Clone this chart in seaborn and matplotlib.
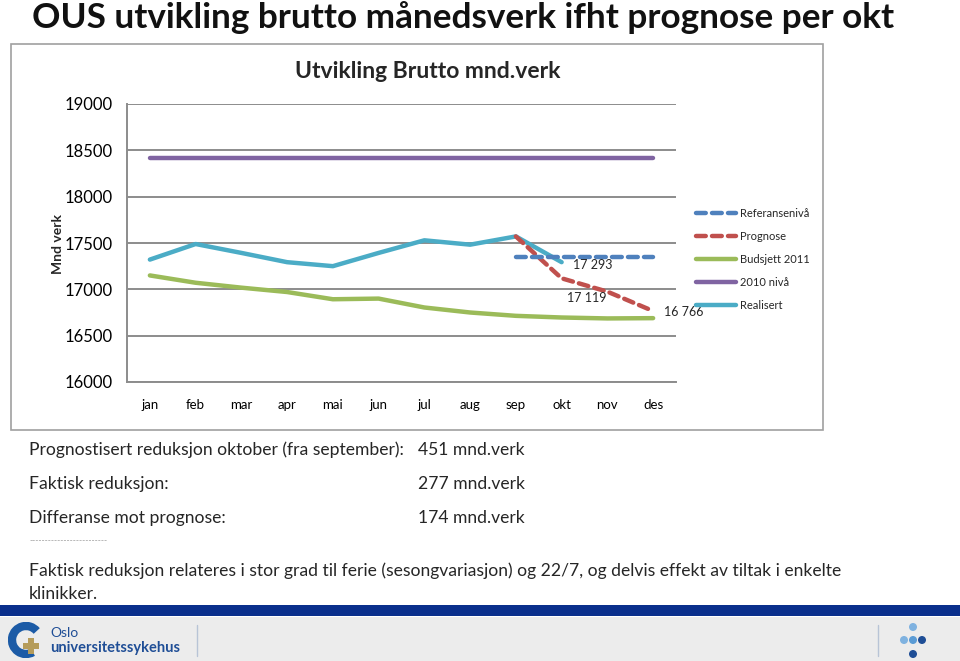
import numpy as np
import matplotlib
matplotlib.use("Agg")
import matplotlib.pyplot as plt
import seaborn as sns
from matplotlib.patches import Rectangle, Arc, Circle
from matplotlib.lines import Line2D

# Data
months = ["jan", "feb", "mar", "apr", "mai", "jun", "jul", "aug", "sep", "okt", "nov", "des"]
realisert = [17321, 17489, 17393, 17293, 17250, 17393, 17529, 17482, 17571, 17293]
budsjett_2011 = [17150, 17071, 17018, 16971, 16893, 16900, 16804, 16750, 16714, 16696, 16686, 16689]
niva_2010 = [18420, 18420, 18420, 18420, 18420, 18420, 18420, 18420, 18420, 18420, 18420, 18420]
prognose_months = ["sep", "okt", "nov", "des"]
prognose = [17571, 17119, 16975, 16766]
referanse_months = ["sep", "okt", "nov", "des"]
referanse = [17350, 17350, 17350, 17350]
y_ticks = [16000, 16500, 17000, 17500, 18000, 18500, 19000]

summary_labels = ["Prognostisert reduksjon oktober (fra september):", "Faktisk reduksjon:", "Differanse mot prognose:"]
summary_values = ["451 mnd.verk", "277 mnd.verk", "174 mnd.verk"]

# Colours (Office palette)
c_blue = "#4F81BD"
c_red = "#C0504D"
c_green = "#9BBB59"
c_purple = "#8064A2"
c_cyan = "#4BACC6"
c_grid = "#8C8C8C"

sns.set_style("white")
plt.rcParams["font.family"] = ["Lato", "DejaVu Sans"]

W, H = 960, 661
fig = plt.figure(figsize=(W / 100, H / 100), dpi=100)


def fx(px):
    return px / W


def fy(py):
    return 1 - py / H


# chart box
fig.patches.append(Rectangle((fx(11), fy(430)), fx(823) - fx(11), fy(44) - fy(430),
                             transform=fig.transFigure, fill=False, edgecolor="#A0A0A0", lw=1.2))

ax = fig.add_axes([fx(127), fy(382), fx(676) - fx(127), fy(104) - fy(382)])

idx = {m: i for i, m in enumerate(months)}
x_all = np.arange(len(months))

sns.lineplot(x=x_all, y=niva_2010, color=c_purple, lw=3.2, ax=ax, solid_capstyle="round")
sns.lineplot(x=x_all, y=budsjett_2011, color=c_green, lw=3.2, ax=ax, solid_capstyle="round")
sns.lineplot(x=x_all[:len(realisert)], y=realisert, color=c_cyan, lw=3.2, ax=ax, solid_capstyle="round")
sns.lineplot(x=[idx[m] for m in prognose_months], y=prognose, color=c_red, lw=3.2, ax=ax,
             linestyle=(0, (2.2, 1.4)), dash_capstyle="round")
sns.lineplot(x=[idx[m] for m in referanse_months], y=referanse, color=c_blue, lw=3.2, ax=ax,
             linestyle=(0, (2.2, 1.4)), dash_capstyle="round")

ax.set_xlim(-0.5, 11.5)
ax.set_ylim(16000, 19000)
ax.set_yticks(y_ticks)
ax.set_yticklabels([str(t) for t in y_ticks], fontsize=12)
ax.set_xticks(x_all)
ax.set_xticklabels(months, fontsize=9.5)
ax.tick_params(axis="both", length=0, colors="black")
ax.tick_params(axis="y", pad=10)
ax.tick_params(axis="x", pad=12)
ax.grid(axis="y", color=c_grid, lw=1.4)
ax.set_axisbelow(True)
sns.despine(ax=ax, top=True, right=True)
for s in ["left", "bottom"]:
    ax.spines[s].set_color(c_grid)
    ax.spines[s].set_linewidth(1.4)
ax.set_xlabel("")
ax.set_ylabel("")

# data labels
ax.annotate("17 293", (idx["okt"], realisert[9]), xytext=(8, -2), textcoords="offset points",
            fontsize=9, ha="left", va="center")
ax.annotate("17 119", (idx["okt"], prognose[1]), xytext=(4, -14), textcoords="offset points",
            fontsize=9, ha="left", va="center")
ax.annotate("16 766", (idx["des"], prognose[3]), xytext=(8, -1), textcoords="offset points",
            fontsize=9, ha="left", va="center")

# legend
handles = [
    Line2D([], [], color=c_blue, lw=3.2, linestyle=(0, (2.2, 1.4)), dash_capstyle="round"),
    Line2D([], [], color=c_red, lw=3.2, linestyle=(0, (2.2, 1.4)), dash_capstyle="round"),
    Line2D([], [], color=c_green, lw=3.2),
    Line2D([], [], color=c_purple, lw=3.2),
    Line2D([], [], color=c_cyan, lw=3.2),
]
names = ["Referansenivå", "Prognose", "Budsjett 2011", "2010 nivå", "Realisert"]
fig.legend(handles, names, loc="upper left", bbox_to_anchor=(fx(690), fy(202)), frameon=False,
           fontsize=8, handlelength=3.6, handletextpad=0.4, labelspacing=1.08, borderpad=0)

fig.text(fx(428), fy(72), "Utvikling Brutto mnd.verk", fontsize=16.5, fontweight="bold",
         ha="center", va="center")
fig.text(fx(58), fy(244), "Mnd verk", fontsize=10, fontweight="bold", rotation=90,
         ha="center", va="center")

# slide title
fig.text(fx(32), fy(18), "OUS utvikling brutto månedsverk ifht prognose per okt", fontsize=25.3,
         fontweight="bold", ha="left", va="center", color="#111111")

# summary text
for i, (lab, val) in enumerate(zip(summary_labels, summary_values)):
    yy = 450 + i * 34
    fig.text(fx(29), fy(yy), lab, fontsize=12.6, ha="left", va="center")
    fig.text(fx(418), fy(yy), val, fontsize=12.6, ha="left", va="center")
fig.text(fx(29), fy(541), "-------------------------", fontsize=6, color="#888888", ha="left", va="center")
fig.text(fx(29), fy(571), "Faktisk reduksjon relateres i stor grad til ferie (sesongvariasjon) og 22/7, og delvis effekt av tiltak i enkelte",
         fontsize=12.6, ha="left", va="center")
fig.text(fx(29), fy(594), "klinikker.", fontsize=12.6, ha="left", va="center")

# footer band (behind the logo axes)
fig.patches.append(Rectangle((0, fy(616)), 1, fy(605) - fy(616), transform=fig.transFigure,
                             color="#0A2F8C", lw=0, zorder=-2))
fig.patches.append(Rectangle((0, 0), 1, fy(617), transform=fig.transFigure, color="#ECECEC",
                             lw=0, zorder=-2))
fig.lines.append(Line2D([fx(197), fx(197)], [fy(625), fy(656)], transform=fig.transFigure,
                        color="#B8C4D6", lw=1))
fig.lines.append(Line2D([fx(878), fx(878)], [fy(625), fy(656)], transform=fig.transFigure,
                        color="#B8C4D6", lw=1))

# logo
logo = fig.add_axes([fx(8), fy(658), fx(44) - fx(8), fy(622) - fy(658)])
logo.set_xlim(0, 36)
logo.set_ylim(0, 36)
logo.set_aspect("equal")
logo.axis("off")
logo.add_patch(Arc((18, 18), 28, 28, theta1=40, theta2=300, lw=6, color="#1C5BA6"))
logo.add_patch(Rectangle((20, 4), 6, 16, color="#B59C5B", lw=0))
logo.add_patch(Rectangle((15, 9), 16, 6, color="#B59C5B", lw=0))
fig.text(fx(50), fy(633), "Oslo", fontsize=10, color="#1F4E96", ha="left", va="center")
fig.text(fx(50), fy(648), "universitetssykehus", fontsize=10.5, color="#1F4E96", fontweight="bold",
         ha="left", va="center")

dots = fig.add_axes([fx(896), fy(660), fx(930) - fx(896), fy(622) - fy(660)])
dots.set_xlim(0, 34)
dots.set_ylim(0, 38)
dots.set_aspect("equal")
dots.axis("off")
for (cx, cy, col) in [(17, 33, "#7FB2E0"), (8, 20, "#7FB2E0"), (17, 20, "#5A9BD5"),
                      (26, 20, "#1F4E96"), (17, 6, "#1F4E96")]:
    dots.add_patch(Circle((cx, cy), 4.0, color=col, lw=0))

fig.savefig("out.png", dpi=100)
